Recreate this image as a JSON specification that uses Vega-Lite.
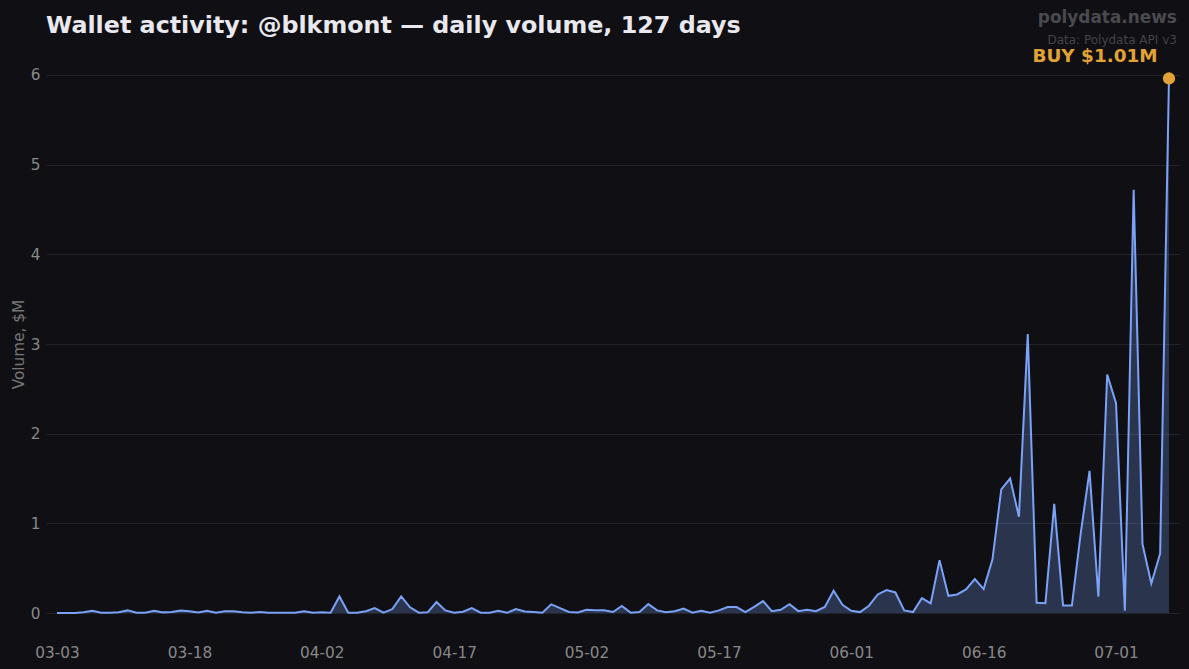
{
  "$schema": "https://vega.github.io/schema/vega-lite/v6.json",
  "width": 1134,
  "height": 592,
  "autosize": {"type": "none"},
  "padding": {"left": 46, "top": 48, "right": 9, "bottom": 29},
  "background": "#0f0f14",
  "view": {"fill": "#0f0f14", "stroke": null},
  "title": {
    "text": "Wallet activity: @blkmont — daily volume, 127 days",
    "anchor": "start",
    "frame": "group",
    "font": "DejaVu Sans",
    "fontSize": 23.8,
    "fontWeight": "bold",
    "color": "#e8e8ee",
    "offset": -29
  },
  "datasets": {
    "daily": [
      {"date": "2025-03-03", "volume": 0.002}, {"date": "2025-03-04", "volume": 0.002}, {"date": "2025-03-05", "volume": 0.002},
      {"date": "2025-03-06", "volume": 0.01}, {"date": "2025-03-07", "volume": 0.027}, {"date": "2025-03-08", "volume": 0.005},
      {"date": "2025-03-09", "volume": 0.003}, {"date": "2025-03-10", "volume": 0.01}, {"date": "2025-03-11", "volume": 0.03},
      {"date": "2025-03-12", "volume": 0.005}, {"date": "2025-03-13", "volume": 0.004}, {"date": "2025-03-14", "volume": 0.025},
      {"date": "2025-03-15", "volume": 0.008}, {"date": "2025-03-16", "volume": 0.012}, {"date": "2025-03-17", "volume": 0.03},
      {"date": "2025-03-18", "volume": 0.02}, {"date": "2025-03-19", "volume": 0.006}, {"date": "2025-03-20", "volume": 0.025},
      {"date": "2025-03-21", "volume": 0.004}, {"date": "2025-03-22", "volume": 0.02}, {"date": "2025-03-23", "volume": 0.02},
      {"date": "2025-03-24", "volume": 0.01}, {"date": "2025-03-25", "volume": 0.004}, {"date": "2025-03-26", "volume": 0.012},
      {"date": "2025-03-27", "volume": 0.004}, {"date": "2025-03-28", "volume": 0.003}, {"date": "2025-03-29", "volume": 0.003},
      {"date": "2025-03-30", "volume": 0.003}, {"date": "2025-03-31", "volume": 0.02}, {"date": "2025-04-01", "volume": 0.005},
      {"date": "2025-04-02", "volume": 0.008}, {"date": "2025-04-03", "volume": 0.004}, {"date": "2025-04-04", "volume": 0.186},
      {"date": "2025-04-05", "volume": 0.004}, {"date": "2025-04-06", "volume": 0.005}, {"date": "2025-04-07", "volume": 0.02},
      {"date": "2025-04-08", "volume": 0.055}, {"date": "2025-04-09", "volume": 0.004}, {"date": "2025-04-10", "volume": 0.045},
      {"date": "2025-04-11", "volume": 0.186}, {"date": "2025-04-12", "volume": 0.065}, {"date": "2025-04-13", "volume": 0.005},
      {"date": "2025-04-14", "volume": 0.008}, {"date": "2025-04-15", "volume": 0.123}, {"date": "2025-04-16", "volume": 0.03},
      {"date": "2025-04-17", "volume": 0.005}, {"date": "2025-04-18", "volume": 0.015}, {"date": "2025-04-19", "volume": 0.056},
      {"date": "2025-04-20", "volume": 0.005}, {"date": "2025-04-21", "volume": 0.003}, {"date": "2025-04-22", "volume": 0.026},
      {"date": "2025-04-23", "volume": 0.003}, {"date": "2025-04-24", "volume": 0.045}, {"date": "2025-04-25", "volume": 0.018},
      {"date": "2025-04-26", "volume": 0.012}, {"date": "2025-04-27", "volume": 0.005}, {"date": "2025-04-28", "volume": 0.097},
      {"date": "2025-04-29", "volume": 0.055}, {"date": "2025-04-30", "volume": 0.012}, {"date": "2025-05-01", "volume": 0.006},
      {"date": "2025-05-02", "volume": 0.036}, {"date": "2025-05-03", "volume": 0.032}, {"date": "2025-05-04", "volume": 0.032},
      {"date": "2025-05-05", "volume": 0.012}, {"date": "2025-05-06", "volume": 0.08}, {"date": "2025-05-07", "volume": 0.005},
      {"date": "2025-05-08", "volume": 0.012}, {"date": "2025-05-09", "volume": 0.1}, {"date": "2025-05-10", "volume": 0.03},
      {"date": "2025-05-11", "volume": 0.01}, {"date": "2025-05-12", "volume": 0.02}, {"date": "2025-05-13", "volume": 0.05},
      {"date": "2025-05-14", "volume": 0.005}, {"date": "2025-05-15", "volume": 0.026}, {"date": "2025-05-16", "volume": 0.005},
      {"date": "2025-05-17", "volume": 0.03}, {"date": "2025-05-18", "volume": 0.067}, {"date": "2025-05-19", "volume": 0.067},
      {"date": "2025-05-20", "volume": 0.01}, {"date": "2025-05-21", "volume": 0.07}, {"date": "2025-05-22", "volume": 0.134},
      {"date": "2025-05-23", "volume": 0.022}, {"date": "2025-05-24", "volume": 0.037}, {"date": "2025-05-25", "volume": 0.1},
      {"date": "2025-05-26", "volume": 0.022}, {"date": "2025-05-27", "volume": 0.037}, {"date": "2025-05-28", "volume": 0.022},
      {"date": "2025-05-29", "volume": 0.068}, {"date": "2025-05-30", "volume": 0.249}, {"date": "2025-05-31", "volume": 0.093},
      {"date": "2025-06-01", "volume": 0.026}, {"date": "2025-06-02", "volume": 0.011}, {"date": "2025-06-03", "volume": 0.082},
      {"date": "2025-06-04", "volume": 0.208}, {"date": "2025-06-05", "volume": 0.257}, {"date": "2025-06-06", "volume": 0.23},
      {"date": "2025-06-07", "volume": 0.03}, {"date": "2025-06-08", "volume": 0.011}, {"date": "2025-06-09", "volume": 0.167},
      {"date": "2025-06-10", "volume": 0.108}, {"date": "2025-06-11", "volume": 0.59}, {"date": "2025-06-12", "volume": 0.193},
      {"date": "2025-06-13", "volume": 0.208}, {"date": "2025-06-14", "volume": 0.264}, {"date": "2025-06-15", "volume": 0.38},
      {"date": "2025-06-16", "volume": 0.268}, {"date": "2025-06-17", "volume": 0.6}, {"date": "2025-06-18", "volume": 1.38},
      {"date": "2025-06-19", "volume": 1.5}, {"date": "2025-06-20", "volume": 1.075}, {"date": "2025-06-21", "volume": 3.11},
      {"date": "2025-06-22", "volume": 0.115}, {"date": "2025-06-23", "volume": 0.11}, {"date": "2025-06-24", "volume": 1.217},
      {"date": "2025-06-25", "volume": 0.085}, {"date": "2025-06-26", "volume": 0.085}, {"date": "2025-06-27", "volume": 0.89},
      {"date": "2025-06-28", "volume": 1.585}, {"date": "2025-06-29", "volume": 0.182}, {"date": "2025-06-30", "volume": 2.66},
      {"date": "2025-07-01", "volume": 2.34}, {"date": "2025-07-02", "volume": 0.026}, {"date": "2025-07-03", "volume": 4.72},
      {"date": "2025-07-04", "volume": 0.77}, {"date": "2025-07-05", "volume": 0.33}, {"date": "2025-07-06", "volume": 0.665},
      {"date": "2025-07-07", "volume": 5.96}
    ]
  },
  "encoding": {
    "x": {
      "field": "date",
      "type": "temporal",
      "scale": {
        "type": "utc",
        "domain": [
          {"year": 2025, "month": 3, "date": 1, "hours": 18, "utc": true},
          {"year": 2025, "month": 7, "date": 8, "hours": 6, "utc": true}
        ]
      },
      "axis": {
        "title": null,
        "labelExpr": "utcFormat(datum.value, '%m-%d')",
        "values": [
          {"year": 2025, "month": 3, "date": 3, "utc": true},
          {"year": 2025, "month": 3, "date": 18, "utc": true},
          {"year": 2025, "month": 4, "date": 2, "utc": true},
          {"year": 2025, "month": 4, "date": 17, "utc": true},
          {"year": 2025, "month": 5, "date": 2, "utc": true},
          {"year": 2025, "month": 5, "date": 17, "utc": true},
          {"year": 2025, "month": 6, "date": 1, "utc": true},
          {"year": 2025, "month": 6, "date": 16, "utc": true},
          {"year": 2025, "month": 7, "date": 1, "utc": true}
        ],
        "grid": false,
        "domain": false,
        "ticks": false,
        "labelPadding": 5,
        "labelFont": "DejaVu Sans",
        "labelFontSize": 15.3,
        "labelColor": "#888888"
      }
    },
    "y": {
      "field": "volume",
      "type": "quantitative",
      "scale": {"domain": [-0.3, 6.3], "nice": false, "zero": false},
      "axis": {
        "title": "Volume, $M",
        "titleFont": "DejaVu Sans",
        "titleFontSize": 15.3,
        "titleFontWeight": "normal",
        "titleColor": "#777777",
        "titlePadding": 4,
        "values": [0, 1, 2, 3, 4, 5, 6],
        "grid": true,
        "gridColor": "#23232a",
        "domain": false,
        "ticks": false,
        "labelPadding": 6,
        "labelFont": "DejaVu Sans",
        "labelFontSize": 15.3,
        "labelColor": "#888888"
      }
    }
  },
  "layer": [
    {
      "data": {"name": "daily"},
      "mark": {"type": "area", "color": "#7aa2f7", "opacity": 0.25},
      "encoding": {"y2": {"datum": 0}}
    },
    {
      "data": {"name": "daily"},
      "mark": {"type": "line", "color": "#7aa2f7", "strokeWidth": 2}
    },
    {
      "data": {"values": [{"date": "2025-07-07", "volume": 5.96}]},
      "mark": {"type": "point", "filled": true, "color": "#e2a336", "opacity": 1, "size": 150}
    },
    {
      "data": {"values": [{"date": "2025-07-05T17:00:00Z", "volume": 6.21, "label": "BUY $1.01M"}]},
      "mark": {"type": "text", "align": "right", "baseline": "middle", "font": "DejaVu Sans", "fontSize": 18.4, "fontWeight": "bold", "color": "#e2a336"},
      "encoding": {"text": {"field": "label"}}
    },
    {
      "data": {"values": [{"date": "2025-07-07T21:30:00Z", "volume": 6.64, "label": "polydata.news"}]},
      "mark": {"type": "text", "align": "right", "baseline": "middle", "font": "DejaVu Sans", "fontSize": 16.9, "fontWeight": "bold", "color": "#4a4a4e"},
      "encoding": {"text": {"field": "label"}}
    },
    {
      "data": {"values": [{"date": "2025-07-07T21:30:00Z", "volume": 6.39, "label": "Data: Polydata API v3"}]},
      "mark": {"type": "text", "align": "right", "baseline": "middle", "font": "DejaVu Sans", "fontSize": 12, "color": "#444448"},
      "encoding": {"text": {"field": "label"}}
    }
  ]
}
